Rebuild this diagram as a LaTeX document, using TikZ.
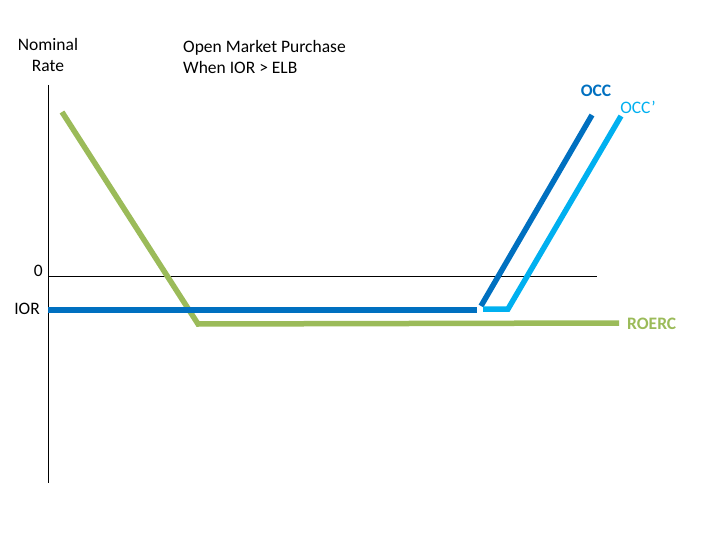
\documentclass[tikz,border=0pt]{standalone}
\usepackage{fontspec}
\setmainfont{Carlito}
\usetikzlibrary{positioning}
\definecolor{occblue}{RGB}{0,112,192}
\definecolor{occlight}{RGB}{0,176,240}
\definecolor{roercgreen}{RGB}{155,187,89}

\begin{document}
\begin{tikzpicture}[x=1pt,y=-1pt,
    every node/.style={font=\fontsize{17.5}{20.5}\selectfont,inner sep=0pt},
    curve/.style={line width=5.5pt}]
    \useasboundingbox (0,0) rectangle (720,540);

    % axes
    \coordinate (top) at (48,85);
    \coordinate (bot) at (48,483);
    \coordinate (z0) at (48,276);
    \coordinate (z1) at (597,276);
    \draw (top) -- (bot);
    \draw (z0) -- (z1);
    \node[anchor=east] at (43,271) (zero) {0};
    \node[anchor=east] at (40,309) (ior) {IOR};
    \node[align=center] at (48,55) (ylab) {Nominal\\Rate};
    \node[align=left,anchor=west] at (183,57) (title) {Open Market Purchase\\When IOR > ELB};

    % ROERC
    \coordinate (g1) at (62,112);
    \coordinate (g2) at (198,324);
    \coordinate (g3) at (619,323);
    \draw[curve,roercgreen] (g1) -- (g2) -- (g3);
    \node[anchor=west,font=\fontsize{17.5}{20.5}\selectfont\bfseries,text=roercgreen] at (627,324) (roerc) {ROERC};

    % OCC
    \coordinate (b1) at (48,310);
    \coordinate (b2) at (477,310);
    \coordinate (b3) at (481,306);
    \coordinate (b4) at (592,115);
    \draw[curve,occblue] (b1) -- (b2);
    \draw[curve,occblue] (b3) -- (b4);
    \node[font=\fontsize{17.5}{20.5}\selectfont\bfseries,text=occblue] at (596,91) (occ) {OCC};

    % OCC'
    \coordinate (c1) at (483,309);
    \coordinate (c2) at (508,309);
    \coordinate (c3) at (621,116);
    \draw[curve,occlight] (c1) -- (c2) -- (c3);
    \node[text=occlight] at (638,107) (occp) {OCC’};
\end{tikzpicture}
\end{document}
